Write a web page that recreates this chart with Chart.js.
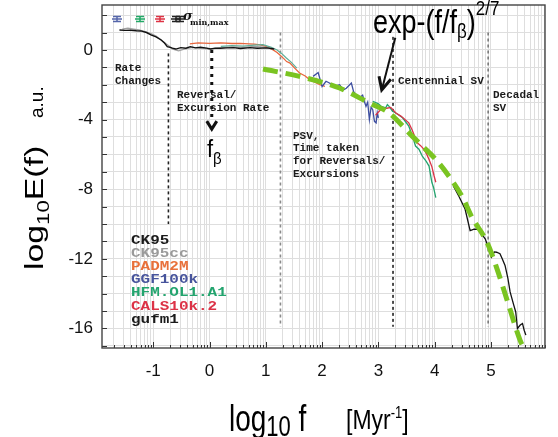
<!DOCTYPE html>
<html>
<head>
<meta charset="utf-8">
<script src="https://cdn.jsdelivr.net/npm/chart.js@4.4.1/dist/chart.umd.min.js"></script>
<style>
  body { margin: 0; background: #fff; }
  #wrap { width: 558px; height: 437px; }
</style>
</head>
<body>
<div id="wrap"><canvas id="chart" width="558" height="437"></canvas></div>
<script>
// axis ranges (log10 f, log10 E)
const xMin = -1.91, xMax = 5.96;
const yMin = -17.12, yMax = 2.58;
const xLabelTicks = [-1, 0, 1, 2, 3, 4, 5];
const yLabelTicks = [0, -4, -8, -12, -16];

// spectra
const ck95X = [-1.6, -1.5, -1.4, -1.3, -1.22, -1.12, -1.04, -0.95, -0.86, -0.8, -0.75, -0.7, -0.66, -0.6, -0.51, -0.42, -0.34, -0.25, -0.16, -0.05, 0.02, 0.1, 0.19, 0.3, 0.43, 0.55, 0.72, 0.85, 1.02, 1.15];
const ck95Y = [1.14, 1.12, 1.13, 1.1, 1.09, 1.0, 0.86, 0.75, 0.57, 0.4, 0.19, 0.15, 0.1, 0.05, 0.13, 0.1, 0.19, 0.12, 0.15, 0.1, 0.05, 0.1, 0.1, 0.12, 0.13, 0.08, 0.13, 0.1, 0.12, 0.05];

const ck95ccX = [-1.55, -1.45, -1.35, -1.25, -1.15, -1.05, -0.95, -0.85, -0.75, -0.65, -0.55, -0.45, -0.3, -0.15, 0, 0.2, 0.4, 0.6, 0.8, 1.0, 1.15];
const ck95ccY = [1.2, 1.25, 1.2, 1.15, 1.05, 0.95, 0.8, 0.55, 0.3, 0.05, -0.05, 0.05, 0.15, 0.1, 0.05, 0.12, 0.18, 0.15, 0.2, 0.15, 0.05];

const padmX = [-0.35, -0.2, 0, 0.2, 0.4, 0.55, 0.7, 0.8, 0.9, 1.0, 1.13, 1.2, 1.25, 1.32, 1.37, 1.43, 1.5, 1.6, 1.7, 1.78, 1.87, 1.96, 2.05];
const padmY = [0.35, 0.4, 0.38, 0.4, 0.37, 0.38, 0.35, 0.33, 0.29, 0.2, 0.0, -0.15, -0.29, -0.5, -0.67, -0.76, -1.0, -1.33, -1.5, -1.71, -1.85, -2.0, -2.1];

const ggfX = [1.84, 1.93, 2.0, 2.07, 2.13, 2.22, 2.31, 2.38, 2.43, 2.52, 2.56, 2.6, 2.66, 2.72, 2.75, 2.78, 2.81, 2.84, 2.87, 2.9, 2.93, 2.96, 2.98, 3.0];
const ggfY = [-1.52, -1.3, -2.1, -1.8, -1.9, -2.1, -2.0, -2.3, -2.2, -1.9, -2.4, -2.57, -2.76, -2.6, -2.95, -3.24, -3.0, -4.0, -3.3, -3.43, -4.1, -4.19, -3.6, -3.9];

const hfmLongX = [0.2, 0.4, 0.6, 0.8, 0.95, 1.1, 1.2, 1.28, 1.36, 1.45, 1.55];
const hfmLongY = [0.2, 0.25, 0.22, 0.28, 0.3, 0.15, 0.0, -0.2, -0.45, -0.7, -1.05];

const hfmX = [2.9, 3.0, 3.05, 3.13, 3.16, 3.19, 3.25, 3.31, 3.43, 3.54, 3.6, 3.66, 3.72, 3.78, 3.85, 3.9, 3.95, 3.98, 4.02];
const hfmY = [-2.95, -3.1, -3.24, -3.33, -3.14, -3.24, -3.52, -3.62, -3.9, -4.38, -4.9, -5.52, -5.7, -6.1, -6.4, -6.67, -7.6, -7.9, -8.48];

const calsX = [2.95, 3.05, 3.15, 3.22, 3.31, 3.4, 3.54, 3.6, 3.69, 3.75, 3.81, 3.86, 3.9, 3.95, 3.99, 4.02];
const calsY = [-3.75, -3.4, -3.35, -3.3, -3.62, -3.8, -4.19, -4.6, -5.33, -5.5, -5.71, -6.0, -6.29, -6.7, -7.24, -7.6];

const gufmX = [4.33, 4.43, 4.54, 4.63, 4.7, 4.78, 4.84, 4.9, 5.01, 5.06, 5.1, 5.16, 5.2, 5.25, 5.3, 5.34, 5.4, 5.44, 5.47, 5.52, 5.56, 5.59, 5.62];
const gufmY = [-7.8, -8.4, -9.14, -10.38, -10.3, -10.29, -10.6, -10.86, -11.9, -11.6, -11.62, -11.7, -12.0, -12.38, -13.1, -13.9, -14.6, -15.05, -16.0, -15.8, -15.71, -16.1, -16.38];

// stretched exponential fit
const fitX = [0.95, 1.6, 2.31, 2.84, 3.19, 3.6, 3.78, 4.02, 4.25, 4.5, 4.66, 4.93, 5.1, 5.28, 5.52, 5.58];
const fitY = [-1.1, -1.52, -2.19, -3.05, -3.62, -4.95, -5.52, -6.29, -7.24, -8.5, -9.6, -11.05, -12.5, -14.3, -16.7, -17.1];

// regime boundaries
const boundX = [-0.73, 1.26, 3.26, 4.95];
const boundTop = [-0.2, 1.0, 0.75, 1.0];
const boundBottom = [-10.0, -15.9, -15.9, -15.9];
const boundColor = ['#222', '#8a8a8a', '#222', '#777'];

// f_beta marker
const fbX = 0.04, fbTop = 0.0, fbEnd = -3.9, fbTip = -4.55;

const legendNames = ['CK95', 'CK95cc', 'PADM2M', 'GGF100k', 'HFM.OL1.A1', 'CALS10k.2', 'gufm1'];
const legendColors = ['#1a1a1a', '#9a9a9a', '#e8703a', '#47549c', '#23a46e', '#dc3246', '#1a1a1a'];

function line(label, xs, ys, color, width, extra) {
  return Object.assign({
    label: label,
    data: xs.map((x, i) => ({ x: x, y: ys[i] })),
    borderColor: color,
    borderWidth: width,
    pointRadius: 0,
    showLine: true,
    fill: false,
    tension: 0
  }, extra || {});
}

const datasets = [
  line('fit', fitX, fitY, '#7ac421', 5, { borderDash: [15, 8], cubicInterpolationMode: 'monotone', order: 0 }),
  line('gufm1', gufmX, gufmY, '#111', 1.3, { order: 1 }),
  line('CALS10k.2', calsX, calsY, '#dc3246', 1.3, { order: 2 }),
  line('HFM.OL1.A1', hfmX, hfmY, '#23a46e', 1.3, { order: 3 }),
  line('GGF100k', ggfX, ggfY, '#3d4ea0', 1.3, { order: 4 }),
  line('CK95', ck95X, ck95Y, '#111', 1.4, { order: 5 }),
  line('CK95cc', ck95ccX, ck95ccY, '#a0a0a0', 1.3, { order: 6 }),
  line('HFM long', hfmLongX, hfmLongY, '#5fae98', 1.2, { order: 7 }),
  line('PADM2M', padmX, padmY, '#e8663d', 1.3, { order: 8 }),
  line('fbeta', [fbX, fbX], [fbTop, fbEnd], '#111', 3, { borderDash: [3, 5], order: 9 })
];
boundX.forEach((x, i) => {
  datasets.push(line('bound' + i, [x, x], [boundTop[i], boundBottom[i]], boundColor[i], 1.6, { borderDash: [3, 3], order: 10 + i }));
});

function drawParts(ctx, parts, x, y, sx, sy) {
  let cx = x;
  parts.forEach(p => {
    ctx.save();
    ctx.font = p.font;
    ctx.translate(cx, y + (p.dy || 0));
    ctx.scale(sx, sy);
    ctx.fillText(p.t, 0, 0);
    cx += ctx.measureText(p.t).width * sx;
    ctx.restore();
  });
}

const annot = {
  id: 'annot',
  afterDraw(chart) {
    const ctx = chart.ctx;
    const xs = chart.scales.x, ys = chart.scales.y;
    const a = chart.chartArea;
    ctx.save();

    // inward ticks
    ctx.strokeStyle = '#333';
    ctx.lineWidth = 1;
    ctx.beginPath();
    ys.ticks.forEach(t => {
      const py = Math.round(ys.getPixelForValue(t.value)) + 0.5;
      ctx.moveTo(a.left, py); ctx.lineTo(a.left + 5, py);
    });
    xs.ticks.forEach(t => {
      const px = Math.round(xs.getPixelForValue(t.value)) + 0.5;
      const len = Number.isInteger(t.value) ? 6 : 3;
      ctx.moveTo(px, a.bottom); ctx.lineTo(px, a.bottom - len);
    });
    ctx.stroke();

    // frame
    ctx.strokeStyle = '#444';
    ctx.lineWidth = 1.4;
    ctx.strokeRect(a.left, a.top, a.right - a.left, a.bottom - a.top);

    // f_beta arrowhead
    const fx = xs.getPixelForValue(fbX), fy = ys.getPixelForValue(fbTip);
    ctx.strokeStyle = '#111';
    ctx.lineWidth = 3;
    ctx.beginPath();
    ctx.moveTo(fx - 5, fy - 8); ctx.lineTo(fx, fy); ctx.lineTo(fx + 5, fy - 8);
    ctx.stroke();

    // arrow to the fit curve
    const sx0 = xs.getPixelForValue(3.3), sy0 = ys.getPixelForValue(0.7);
    const tx = xs.getPixelForValue(3.06), ty = ys.getPixelForValue(-2.3);
    ctx.lineWidth = 2;
    ctx.beginPath(); ctx.moveTo(sx0, sy0); ctx.lineTo(tx, ty); ctx.stroke();
    const ang = Math.atan2(ty - sy0, tx - sx0);
    ctx.lineWidth = 3;
    ctx.beginPath();
    ctx.moveTo(tx - 14 * Math.cos(ang - 0.45), ty - 14 * Math.sin(ang - 0.45));
    ctx.lineTo(tx, ty);
    ctx.lineTo(tx - 14 * Math.cos(ang + 0.45), ty - 14 * Math.sin(ang + 0.45));
    ctx.stroke();

    // regime notes
    ctx.fillStyle = '#1a1a1a';
    ctx.textBaseline = 'alphabetic';
    ctx.font = 'bold 11px "Liberation Mono", monospace';
    [['Rate', 115, 71], ['Changes', 115, 84],
     ['Reversal/', 177, 98], ['Excursion Rate', 177, 111],
     ['PSV,', 293, 139], ['Time taken', 293, 151], ['for Reversals/', 293, 164], ['Excursions', 293, 177],
     ['Centennial SV', 398, 84],
     ['Decadal', 493, 98], ['SV', 493, 111]].forEach(r => ctx.fillText(r[0], r[1], r[2]));

    // model legend
    legendNames.forEach((n, i) => {
      ctx.save();
      ctx.fillStyle = legendColors[i];
      ctx.font = 'bold 12px "Liberation Mono", monospace';
      ctx.translate(131, 244 + i * 13.1);
      ctx.scale(1.33, 1);
      ctx.fillText(n, 0, 0);
      ctx.restore();
    });

    // sigma legend
    [['#5566aa', 117], ['#22a866', 140], ['#dd3344', 160], ['#222', 176], ['#222', 180]].forEach(e => {
      ctx.strokeStyle = e[0];
      ctx.lineWidth = 1.5;
      ctx.beginPath();
      ctx.moveTo(e[1] - 4, 16.5); ctx.lineTo(e[1] + 4, 16.5);
      ctx.moveTo(e[1] - 4, 21.5); ctx.lineTo(e[1] + 4, 21.5);
      ctx.moveTo(e[1], 16.5); ctx.lineTo(e[1], 21.5);
      ctx.moveTo(e[1] - 5, 19); ctx.lineTo(e[1] + 5, 19);
      ctx.stroke();
    });
    ctx.fillStyle = '#111';
    ctx.font = 'italic bold 13px "DejaVu Serif", serif';
    ctx.fillText('σ', 183, 20);
    ctx.font = 'bold 8px "DejaVu Serif", serif';
    ctx.fillText('min,max', 190, 25);

    // f_beta label
    ctx.fillStyle = '#000';
    drawParts(ctx, [
      { t: 'f', font: '22px "Liberation Sans", Arial' },
      { t: 'β', font: '15px "Liberation Sans", Arial', dy: 7 }
    ], 207, 157, 1, 1.1);

    // fit formula
    drawParts(ctx, [
      { t: 'exp-(f/f', font: '27px "Liberation Sans", Arial' },
      { t: 'β', font: '17px "Liberation Sans", Arial', dy: 5 },
      { t: ')', font: '27px "Liberation Sans", Arial' },
      { t: '2/7', font: '17px "Liberation Sans", Arial', dy: -18 }
    ], 373, 33, 1, 1.2);

    // x axis title
    drawParts(ctx, [
      { t: 'log', font: '28px "Liberation Sans", Arial' },
      { t: '10', font: '22px "Liberation Sans", Arial', dy: 5 },
      { t: ' f', font: '28px "Liberation Sans", Arial' }
    ], 229, 431, 1, 1.35);
    drawParts(ctx, [
      { t: '[Myr', font: '23px "Liberation Sans", Arial' },
      { t: '-1', font: '13px "Liberation Sans", Arial', dy: -11 },
      { t: ']', font: '23px "Liberation Sans", Arial' }
    ], 346, 429, 1, 1.2);

    // y axis title
    ctx.save();
    ctx.translate(43, 270);
    ctx.rotate(-Math.PI / 2);
    drawParts(ctx, [
      { t: 'log', font: '26px "Liberation Sans", Arial' },
      { t: '10', font: '17px "Liberation Sans", Arial', dy: 6 },
      { t: 'E(f)', font: '26px "Liberation Sans", Arial' }
    ], 0, 0, 1.3, 1);
    ctx.restore();
    ctx.save();
    ctx.translate(43, 118);
    ctx.rotate(-Math.PI / 2);
    ctx.font = '19px "Liberation Sans", Arial';
    ctx.fillText('a.u.', 0, 0);
    ctx.restore();

    ctx.restore();
  }
};

new Chart(document.getElementById('chart'), {
  type: 'scatter',
  data: { datasets: datasets },
  options: {
    responsive: false,
    animation: false,
    devicePixelRatio: 1,
    layout: { padding: { top: 5, right: 13, left: 0, bottom: 0 } },
    plugins: { legend: { display: false }, tooltip: { enabled: false } },
    scales: {
      x: {
        type: 'linear',
        min: xMin,
        max: xMax,
        border: { display: false },
        grid: { color: '#dedede', lineWidth: 1, drawTicks: false },
        afterBuildTicks(scale) {
          const t = [];
          for (let k = -2; k <= 5; k++) {
            for (let m = 1; m <= 9; m++) {
              const v = m === 1 ? k : k + Math.log10(m);
              if (v >= xMin && v <= xMax) t.push({ value: v });
            }
          }
          scale.ticks = t;
        },
        afterFit(scale) {
          scale.height = 89;
          scale.paddingLeft = 0;
          scale.paddingRight = 0;
        },
        ticks: {
          autoSkip: false,
          maxRotation: 0,
          padding: 13,
          color: '#111',
          font: { family: '"Liberation Sans", Arial', size: 17 },
          callback: v => xLabelTicks.includes(v) ? String(v) : ''
        }
      },
      y: {
        type: 'linear',
        min: yMin,
        max: yMax,
        border: { display: false },
        grid: { color: '#dedede', lineWidth: 1, drawTicks: false },
        afterBuildTicks(scale) {
          const t = [];
          for (let v = -17; v <= 2; v++) t.push({ value: v });
          scale.ticks = t;
        },
        afterFit(scale) {
          scale.width = 102;
          scale.paddingTop = 0;
          scale.paddingBottom = 0;
        },
        ticks: {
          autoSkip: false,
          padding: 9,
          color: '#111',
          font: { family: '"Liberation Sans", Arial', size: 17 },
          callback: v => yLabelTicks.includes(v) ? String(v) : ''
        }
      }
    }
  },
  plugins: [annot]
});
</script>
</body>
</html>
